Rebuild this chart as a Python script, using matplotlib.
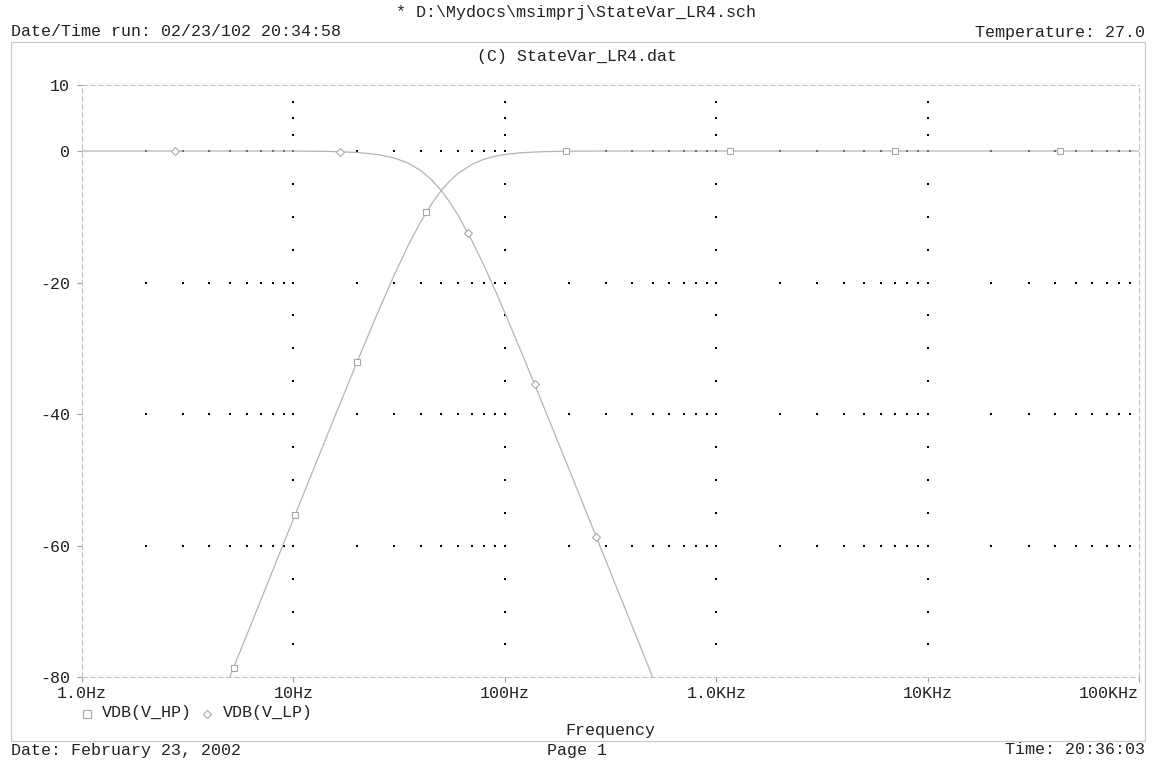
import numpy as np
import matplotlib
matplotlib.use("Agg")
import matplotlib.pyplot as plt
from matplotlib.patches import Rectangle
from matplotlib.lines import Line2D
from matplotlib.ticker import FixedLocator, FixedFormatter, NullLocator

plt.rcParams['font.family'] = ['Liberation Mono', 'DejaVu Sans Mono']

# ---------------- data ----------------
hp_freq = [4.5, 5, 6, 7, 8, 10, 12, 15, 18, 20, 25, 30, 35, 40, 45, 50, 55, 60,
           70, 80, 90, 100, 120, 150, 200, 300, 1000, 100000]
hp_db = [-83.66, -79.92, -73.66, -68.31, -63.68, -55.93, -49.61, -41.90, -35.64,
         -32.05, -24.61, -18.81, -14.26, -10.73, -8.04, -6.02, -4.52, -3.41,
         -2.01, -1.23, -0.80, -0.53, -0.26, -0.11, -0.03, -0.01, 0.0, 0.0]

lp_freq = [1, 5, 10, 15, 20, 25, 30, 35, 40, 45, 50, 55, 60, 70, 80, 90, 100,
           120, 150, 200, 250, 300, 400, 500, 550]
lp_db = [0.0, 0.0, -0.01, -0.07, -0.22, -0.53, -1.06, -1.87, -2.98, -4.38, -6.02,
         -7.83, -9.75, -13.70, -17.56, -21.21, -24.61, -30.68, -38.28, -48.20,
         -55.93, -62.26, -72.25, -80.00, -83.31]

hp_marker_freq = [5.23, 10.2, 20.0, 42.4, 195, 1164, 7020, 42200]
hp_marker_db = [-78.6, -55.3, -32.1, -9.3, 0.0, 0.0, 0.0, 0.0]
lp_marker_freq = [2.76, 16.66, 66.6, 138.3, 268.7]
lp_marker_db = [0.0, -0.1, -12.5, -35.4, -58.6]

x_ticks = [1, 10, 100, 1000, 10000, 100000]
x_labels = ["1.0Hz", "10Hz", "100Hz", "1.0KHz", "10KHz", "100KHz"]
y_ticks = [10, 0, -20, -40, -60, -80]
y_labels = ["10", "0", "-20", "-40", "-60", "-80"]

series_names = ["VDB(V_HP)", "VDB(V_LP)"]

# ---------------- styling ----------------
W, H = 1152, 764
TXT = '#222222'
CURVE = '#b4b4b4'
DASH = '#c4c4c4'
FS = 12

fig = plt.figure(figsize=(W / 100, H / 100), dpi=100)
fig.patch.set_facecolor('white')

def fx(px):
    return px / W

def fy(py):
    return 1 - py / H

ax = fig.add_axes([fx(82), fy(677.3), fx(1139.3) - fx(82), fy(85.2) - fy(677.3)])
ax.set_xscale('log')
ax.set_xlim(x_ticks[0], x_ticks[-1])
ax.set_ylim(y_ticks[-1], y_ticks[0])

# dotted grid: rows of dots on major y at minor x; columns on major x at minor y
row_y = [v for v in y_ticks[1:-1]]
minor_x = []
for d in range(0, 5):
    for k in range(2, 11):
        minor_x.append(k * 10 ** d)
minor_x = [v for v in minor_x if v < x_ticks[-1]]
col_x = x_ticks[1:-1]
minor_y = []
for a, b in zip(y_ticks[:-1], y_ticks[1:]):
    minor_y.extend(list(np.linspace(a, b, 5)[1:4]))
minor_y.extend(row_y)
gx, gy = [], []
for yv in row_y:
    for xv in minor_x:
        gx.append(xv); gy.append(yv)
for xv in col_x:
    for yv in minor_y:
        gx.append(xv); gy.append(yv)
ax.scatter(gx, gy, s=1.3, c='black', marker='s', linewidths=0, zorder=1)

# curves
ax.plot(hp_freq, hp_db, color=CURVE, lw=0.9, zorder=2)
ax.plot(lp_freq, lp_db, color=CURVE, lw=0.9, zorder=2)
ax.plot(hp_marker_freq, hp_marker_db, ls='none', marker='s', mfc='white',
        mec='#a8a8a8', ms=5, mew=0.8, zorder=3)
ax.plot(lp_marker_freq, lp_marker_db, ls='none', marker='D', mfc='white',
        mec='#a8a8a8', ms=4, mew=0.8, zorder=3)

# axes / ticks
ax.xaxis.set_major_locator(FixedLocator(x_ticks))
ax.xaxis.set_major_formatter(FixedFormatter(x_labels))
ax.xaxis.set_minor_locator(NullLocator())
ax.yaxis.set_major_locator(FixedLocator(y_ticks))
ax.yaxis.set_major_formatter(FixedFormatter(y_labels))
ax.yaxis.set_minor_locator(NullLocator())
ax.tick_params(axis='both', direction='out', length=3.6, width=0.8,
               color='#a0a0a0', labelcolor=TXT, labelsize=FS)
ax.tick_params(axis='y', pad=5)
ax.tick_params(axis='x', pad=3)
for s in ax.spines.values():
    s.set_linestyle((0, (4.3, 2.9)))
    s.set_color(DASH)
    s.set_linewidth(0.8)
ax.set_facecolor('white')
fig.canvas.draw()
ax.get_xticklabels()[-1].set_horizontalalignment('right')

# outer frame
fig.add_artist(Rectangle((fx(11.3), fy(740.5)), fx(1144.5) - fx(11.3), fy(42.3) - fy(740.5),
                         transform=fig.transFigure, fill=False, ec='#c8c8c8', lw=0.9))

# header / footer texts
fig.text(fx(576), fy(13), r"* D:\Mydocs\msimprj\StateVar_LR4.sch", ha='center', va='center',
         fontsize=FS, color=TXT)
fig.text(fx(11), fy(32), "Date/Time run: 02/23/102 20:34:58", ha='left', va='center',
         fontsize=FS, color=TXT)
fig.text(fx(1145), fy(32), "Temperature: 27.0", ha='right', va='center', fontsize=FS, color=TXT)
fig.text(fx(577), fy(56), "(C) StateVar_LR4.dat", ha='center', va='center', fontsize=FS, color=TXT)
fig.text(fx(610.5), fy(731), "Frequency", ha='center', va='center', fontsize=FS, color=TXT)
fig.text(fx(11), fy(750), "Date: February 23, 2002", ha='left', va='center', fontsize=FS, color=TXT)
fig.text(fx(577), fy(750), "Page 1", ha='center', va='center', fontsize=FS, color=TXT)
fig.text(fx(1145), fy(750), "Time: 20:36:03", ha='right', va='center', fontsize=FS, color=TXT)

# legend
fig.add_artist(Line2D([fx(86.5)], [fy(713.5)], transform=fig.transFigure, ls='none', marker='s',
                      mfc='white', mec='#a8a8a8', ms=5.5, mew=0.8))
fig.text(fx(102), fy(713), series_names[0], ha='left', va='center', fontsize=FS, color=TXT)
fig.add_artist(Line2D([fx(207)], [fy(713.5)], transform=fig.transFigure, ls='none', marker='D',
                      mfc='white', mec='#a8a8a8', ms=4, mew=0.8))
fig.text(fx(223), fy(713), series_names[1], ha='left', va='center', fontsize=FS, color=TXT)

fig.savefig("out.png", dpi=100, facecolor='white')
